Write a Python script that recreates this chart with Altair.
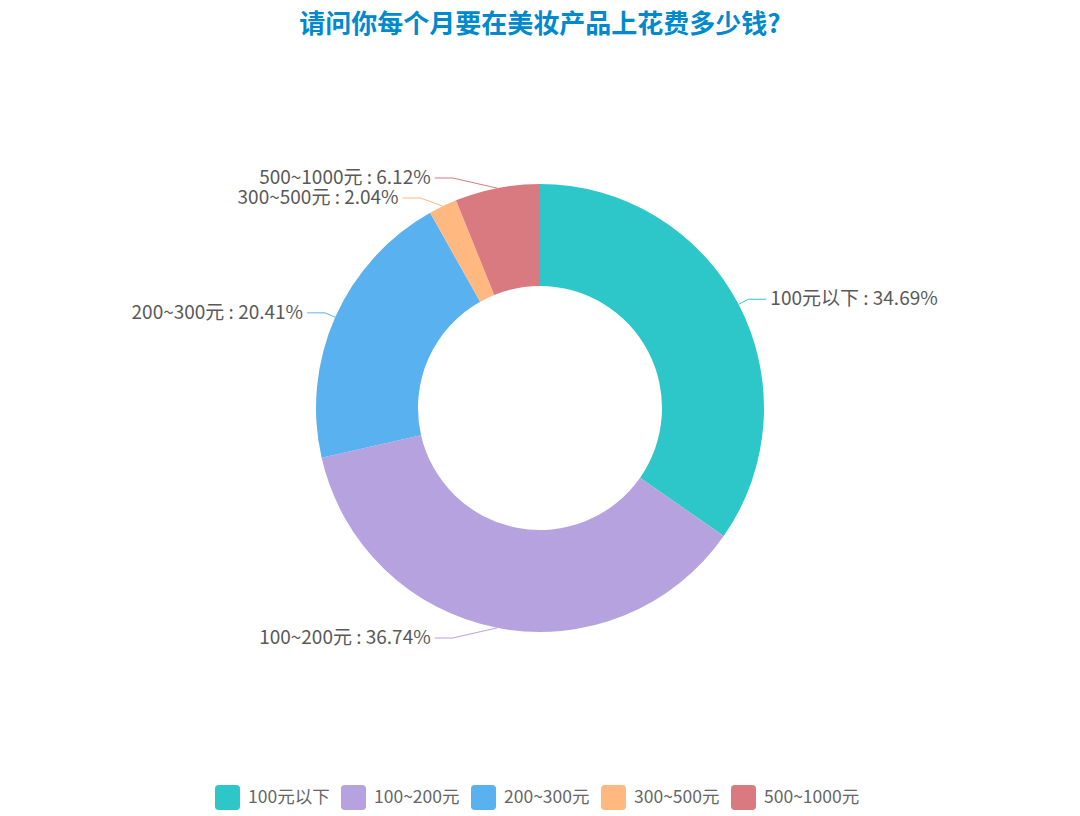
import math
import altair as alt
import pandas as pd

# ---- data ----
categories = ["100元以下", "100~200元", "200~300元", "300~500元", "500~1000元"]
percents = [34.69, 36.74, 20.41, 2.04, 6.12]
colors = ["#2ec7c9", "#b6a2de", "#5ab1ef", "#ffb980", "#d87a80"]
title_text = "请问你每个月要在美妆产品上花费多少钱?"

FONT = "Noto Sans CJK SC"

# ---- layout constants ----
W, H = 1064, 720
cx, cy = W / 2, H / 2
R_OUT, R_IN = 224, 122
R_ELBOW, LEN2, GAP, MAX_DY, LINE_H = 235, 18, 4, 230, 20
ELL_A, ELL_B = 218, 251   # ellipse used for labels moved to avoid overlap

# ---- label layout derived from the data (pie-style leader lines) ----
total = sum(percents)
rows = []
cum = 0.0
for i, (c, p) in enumerate(zip(categories, percents)):
    mid = (cum + p / 2) / total
    cum += p
    a = 2 * math.pi * mid
    rows.append(dict(
        cat=c, pct=p, side=1 if math.sin(a) >= 0 else -1,
        sx=cx + R_OUT * math.sin(a), sy=cy - R_OUT * math.cos(a),
        ex=cx + R_ELBOW * math.sin(a), ey=cy - R_ELBOW * math.cos(a), adj=False,
    ))

for side in (1, -1):
    items = [r for r in rows if r["side"] == side]
    for r in items:
        dy = r["ey"] - cy
        if abs(dy) > MAX_DY:
            r["ey"] = cy + math.copysign(MAX_DY, dy)
            r["adj"] = True
    items.sort(key=lambda r: r["ey"])
    for k in range(1, len(items)):
        if items[k]["ey"] < items[k - 1]["ey"] + LINE_H:
            items[k]["ey"] = items[k - 1]["ey"] + LINE_H
            items[k]["adj"] = True
    for r in items:
        if r["adj"]:
            dy = r["ey"] - cy
            r["ex"] = cx + side * ELL_A * math.sqrt(max(1 - (dy / ELL_B) ** 2, 0))

line_records = []
text_records = []
for r in rows:
    s = r["side"]
    end_x = r["ex"] + s * LEN2
    line_records += [
        dict(cat=r["cat"], k=0, x=r["sx"], y=r["sy"]),
        dict(cat=r["cat"], k=1, x=r["ex"], y=r["ey"]),
        dict(cat=r["cat"], k=2, x=end_x, y=r["ey"]),
    ]
    text_records.append(dict(
        cat=r["cat"], side=s, tx=end_x + s * GAP, ty=r["ey"],
        label=f"{r['cat']} : {r['pct']:.2f}%",
    ))

base_df = pd.DataFrame({"cat": categories, "pct": percents, "idx": list(range(len(categories)))})
line_df = pd.DataFrame(line_records)
text_df = pd.DataFrame(text_records)

color_scale = alt.Scale(domain=categories, range=colors)

rounded_rect = ("M-0.7,-1 L0.7,-1 Q1,-1 1,-0.7 L1,0.7 Q1,1 0.7,1 L-0.7,1 "
                "Q-1,1 -1,0.7 L-1,-0.7 Q-1,-1 -0.7,-1 Z")

arcs = alt.Chart(base_df).mark_arc(outerRadius=R_OUT, innerRadius=R_IN).encode(
    theta=alt.Theta("pct:Q", stack=True),
    color=alt.Color(
        "cat:N", scale=color_scale,
        legend=alt.Legend(
            title=None, orient="none", legendX=207, legendY=737,
            direction="horizontal", symbolType=rounded_rect, symbolSize=625,
            symbolStrokeWidth=0, symbolOpacity=1, labelFont=FONT,
            labelFontSize=17.5, labelColor="#666666", labelOffset=8,
            columnPadding=11, padding=0,
        ),
    ),
    order=alt.Order("idx:Q"),
)

lines = alt.Chart(line_df).mark_line(strokeWidth=1).encode(
    x=alt.X("x:Q", scale=None, axis=None),
    y=alt.Y("y:Q", scale=None, axis=None),
    color=alt.Color("cat:N", scale=color_scale, legend=None),
    detail="cat:N",
    order=alt.Order("k:Q"),
)

text_right = alt.Chart(text_df).transform_filter("datum.side > 0").mark_text(
    align="left", baseline="middle", fontSize=19, font=FONT, color="#595959"
).encode(
    x=alt.X("tx:Q", scale=None, axis=None),
    y=alt.Y("ty:Q", scale=None, axis=None),
    text="label:N",
)

text_left = alt.Chart(text_df).transform_filter("datum.side < 0").mark_text(
    align="right", baseline="middle", fontSize=19, font=FONT, color="#595959"
).encode(
    x=alt.X("tx:Q", scale=None, axis=None),
    y=alt.Y("ty:Q", scale=None, axis=None),
    text="label:N",
)

chart = alt.layer(arcs, lines, text_right, text_left).properties(
    width=W, height=H,
    padding={"top": 40, "left": 0, "right": 0, "bottom": 52},
    autosize="none",
    title=alt.TitleParams(
        text=title_text, fontSize=26, fontWeight="bold", color="#008acd",
        font=FONT, anchor="middle", frame="group", offset=10,
    ),
).configure_view(stroke=None)

chart.save("out.html", embed_options={"renderer": "svg", "actions": False})
